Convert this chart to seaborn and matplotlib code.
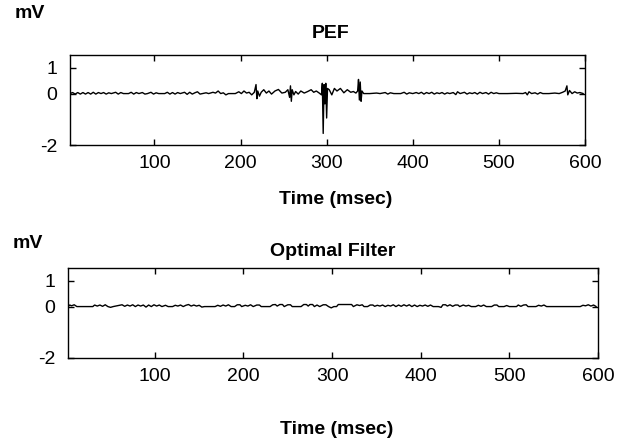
import matplotlib
matplotlib.use("Agg")
import matplotlib.pyplot as plt
import seaborn as sns

sns.set_style("ticks")
plt.rcParams['font.family'] = ['Liberation Sans', 'DejaVu Sans']
plt.rcParams['axes.unicode_minus'] = False

# ---- data (time in msec, amplitude in mV) ----
t_pef = [2, 5, 8, 11, 14, 17, 20, 23, 26, 29, 32, 35, 38, 41, 44, 47, 50, 55, 58, 61,
         64, 70, 73, 76, 79, 82, 86, 89, 92, 96, 99, 102, 105, 112, 115, 118, 121, 124, 127, 130,
         135, 138, 141, 144, 147, 150, 153, 156, 160, 163, 168, 171, 174, 177, 180, 183, 186, 194, 198, 201,
         204, 207, 210, 213, 216, 218, 219, 220, 222, 224, 227, 230, 233, 236, 240, 244, 248, 252, 255, 257,
         258, 259, 260, 262, 264, 267, 270, 274, 278, 282, 285, 288, 291, 294, 295, 296, 297, 298, 299, 300,
         301, 303, 306, 309, 312, 316, 320, 324, 328, 331, 334, 336, 337, 338, 339, 340, 341, 343, 350, 358,
         362, 368, 371, 374, 378, 386, 390, 393, 396, 400, 404, 407, 410, 413, 416, 419, 422, 425, 428, 431,
         434, 437, 440, 443, 447, 450, 452, 455, 460, 463, 466, 469, 472, 475, 478, 481, 485, 488, 491, 494,
         497, 500, 510, 520, 528, 531, 533, 535, 538, 542, 545, 548, 551, 558, 565, 570, 574, 577, 579, 580,
         582, 585, 588, 591, 594, 598]
v_pef = [0, 0.04, -0.02, 0.04, -0.02, 0.04, -0.02, 0.04, -0.02, 0.05, -0.02, 0.04, 0, 0.04, -0.02, 0.03, 0, 0.05, -0.02, 0.04,
         0, 0, 0.05, -0.02, 0.04, 0, 0.04, -0.02, 0, 0.05, -0.02, 0.03, 0, 0, 0.05, -0.02, 0.04, -0.02, 0.04, 0,
         0.05, -0.03, 0.05, -0.02, 0.03, 0.07, -0.02, 0, 0.03, 0, 0.05, 0.02, 0.1, 0, 0.03, -0.05, 0, 0, 0.07, 0,
         0.1, 0.02, 0.05, -0.05, 0.05, 0.35, -0.2, 0.1, -0.1, 0.05, 0.15, 0.02, 0.1, -0.02, 0.1, 0.16, 0.02, 0.05, 0.15, -0.15,
         0.3, -0.3, 0.15, -0.05, 0.08, -0.02, 0.1, 0.02, 0.08, 0.15, 0.05, 0.1, 0.03, -0.05, 0.4, -1.55, 0.35, -0.4, 0.4, -0.95,
         0.2, 0.15, -0.05, 0.2, 0.1, 0.2, 0.03, 0.15, 0.05, 0.08, 0.02, 0.1, 0.55, -0.25, 0.45, -0.3, 0.1, 0, 0, 0.02,
         0, 0.04, -0.02, 0.03, 0, 0, 0.05, -0.02, 0.03, 0, 0.04, 0, 0.05, -0.02, 0.04, 0, 0.05, -0.02, 0.03, 0,
         0.04, -0.02, 0.03, 0, 0.04, -0.04, 0.07, 0, 0.05, -0.02, 0.03, 0, 0.04, -0.02, 0.05, 0, 0.04, -0.02, 0.05, 0,
         0.03, 0, 0, 0.01, 0, 0.04, -0.05, 0.07, 0, 0.03, -0.02, 0.04, 0, 0, 0.02, 0, 0.05, 0.1, 0.3, -0.05,
         0.12, 0, 0.07, 0.02, 0.04, 0]

t_opt = [2, 4, 6, 9, 12, 30, 32, 35, 38, 41, 44, 47, 50, 53, 60, 63, 66, 69, 72, 75,
         78, 81, 84, 87, 90, 93, 96, 99, 102, 105, 108, 112, 115, 120, 123, 126, 129, 132, 135, 138,
         141, 144, 147, 150, 153, 156, 168, 171, 174, 177, 180, 183, 186, 190, 193, 196, 198, 202, 205, 208,
         211, 215, 218, 220, 230, 233, 236, 238, 241, 244, 246, 250, 253, 255, 265, 268, 271, 273, 275, 278,
         280, 283, 286, 290, 293, 296, 299, 302, 305, 307, 322, 324, 328, 331, 334, 336, 340, 343, 346, 348,
         351, 354, 357, 360, 363, 366, 369, 372, 375, 378, 381, 384, 387, 390, 393, 396, 399, 402, 405, 408,
         411, 414, 420, 423, 425, 428, 430, 433, 436, 439, 442, 444, 448, 451, 454, 457, 462, 465, 468, 471,
         474, 480, 483, 486, 488, 494, 497, 500, 508, 510, 513, 516, 519, 521, 530, 533, 536, 539, 542, 560,
         580, 583, 586, 589, 592, 595, 598]
v_opt = [0, 0.06, 0.03, 0.07, 0, 0, 0.06, 0.02, 0.06, 0.01, 0.07, 0, -0.03, 0, 0.05, 0.07, 0.01, 0.06, 0.02, 0.07,
         0, 0.06, 0.02, 0.06, -0.02, 0.06, 0, 0.07, 0.02, 0.06, 0, 0.05, 0, 0, 0.05, 0.02, 0.06, 0, 0.05, 0.08,
         0.02, 0.06, 0.02, 0.05, -0.02, 0, 0, 0.05, 0.01, 0.06, 0.02, 0.07, 0, 0, 0.07, 0.07, 0, 0.05, 0.02, 0.07,
         0, 0.06, 0.06, 0, 0, 0.07, 0.08, 0.02, 0.08, 0.08, 0, 0.07, 0.07, 0, 0, 0.08, 0.08, 0.02, 0.08, 0.08,
         0, 0.06, 0, 0.07, 0.07, 0, -0.05, 0, 0, 0.08, 0.08, 0, 0.07, 0.04, 0.07, 0, 0, 0.06, 0.06, 0.01,
         0.05, 0.02, 0.06, 0, 0.05, 0.02, 0.07, 0, 0.06, 0.01, 0.07, 0.02, 0.07, 0, 0.06, 0, 0.05, 0.02, 0.06, 0.01,
         0.06, 0, 0, -0.03, 0.07, 0.07, 0.02, 0.07, 0.01, 0.06, 0.06, 0, 0.06, 0.02, 0.05, 0, 0, 0.05, 0.01, 0.06,
         0, 0, 0.06, 0.06, 0, 0, 0.04, 0, 0, 0.06, 0.01, 0.06, 0.07, 0, 0, 0.05, 0.02, 0.06, 0, 0,
         0, 0.05, 0.03, 0.07, 0.02, 0.06, 0]

x_ticks = [100, 200, 300, 400, 500, 600]
y_ticks = [-2, 0, 1]
titles = ["PEF", "Optimal Filter"]
y_unit = "mV"
x_label = "Time (msec)"

W, H = 620, 446
fig = plt.figure(figsize=(W / 100, H / 100), dpi=100)

def fx(px):
    return px / W

def fy(py):
    return 1 - py / H

# axes boxes in pixels: left, top, right, bottom
boxes = [(70, 55, 585, 145), (68, 268, 598, 358)]
xlims = [(2, 598), (2, 600)]
series = [(t_pef, v_pef), (t_opt, v_opt)]

for (l, t, r, b), xl, (tx, vy) in zip(boxes, xlims, series):
    ax = fig.add_axes([fx(l), fy(b), (r - l) / W, (b - t) / H])
    sns.lineplot(x=tx, y=vy, ax=ax, color="black", linewidth=1.0, estimator=None, sort=False)
    ax.set_xlim(*xl)
    ax.set_ylim(-2, 1.5)
    ax.set_xticks(x_ticks)
    ax.set_yticks(y_ticks)
    ax.tick_params(direction="in", length=4, width=1, top=True, right=True,
                   labelsize=14, colors="black", pad=7)
    ax.tick_params(axis="y", pad=9)
    for s in ax.spines.values():
        s.set_visible(True)
        s.set_linewidth(1.0)
        s.set_color("black")
    ax.set_xlabel("")
    ax.set_ylabel("")
    ax.set_facecolor("white")

fkw = dict(fontsize=14, fontweight="bold", ha="center", va="center", color="black")
fig.text(fx(30), fy(14), y_unit, **fkw)
fig.text(fx(331), fy(33), titles[0], **fkw)
fig.text(fx(336), fy(199), x_label, **fkw)
fig.text(fx(28), fy(243), y_unit, **fkw)
fig.text(fx(333), fy(251), titles[1], **fkw)
fig.text(fx(337), fy(430), x_label, **fkw)

fig.savefig("out.png", dpi=100, facecolor="white")
